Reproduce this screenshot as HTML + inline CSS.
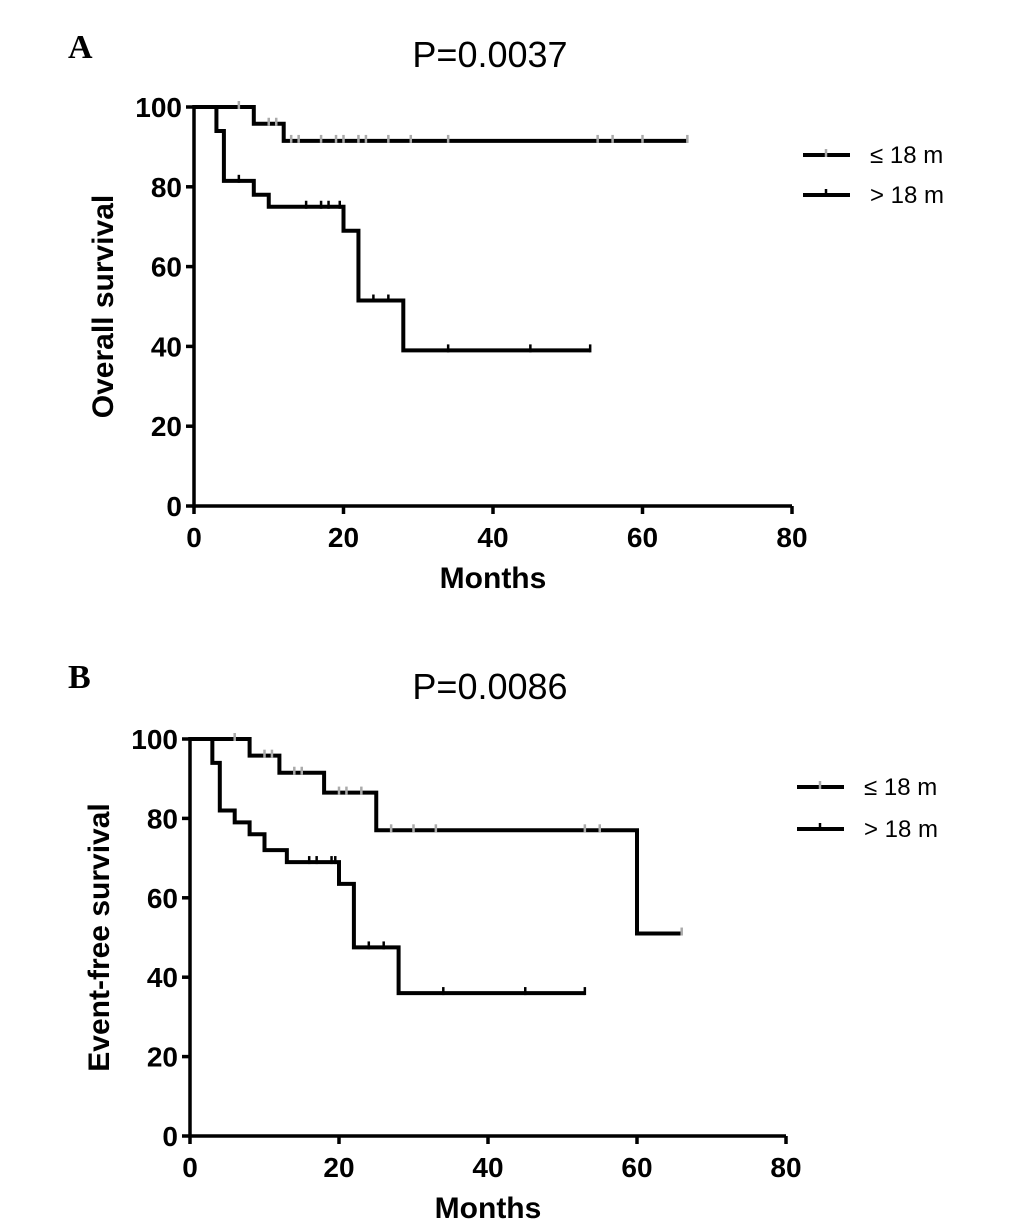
<!DOCTYPE html>
<html><head><meta charset="utf-8"><style>
body{margin:0;background:#fff}
svg{display:block}
text{font-family:"Liberation Sans",Arial,sans-serif}
text.serif{font-family:"Liberation Serif",serif}
</style></head><body>
<svg id="s" width="1033" height="1231" xmlns="http://www.w3.org/2000/svg"></svg>
<script>
// Panel A data
const aTicksX=[0,20,40,60,80];
const aTicksY=[0,20,40,60,80,100];
const aLowT=[0,8,12,66];           // ≤18 m step times
const aLowS=[100,95.8,91.5,91.5];
const aLowC=[6,10,11,13,14,17,19,20,22,23,26,29,34,54,56,60,66];
const aHighT=[0,3,4,8,10,20,22,28,53];
const aHighS=[100,94,81.5,78,75,69,51.5,39,39];
const aHighC=[6,15,17,18,19.5,24,26,34,45,53];
// Panel B data
const bLowT=[0,8,12,18,25,60,66];
const bLowS=[100,95.8,91.5,86.5,77,51,51];
const bLowC=[6,10,11,14,15,20,21,23,27,30,33,53,55,66];
const bHighT=[0,3,4,6,8,10,13,20,22,28,53];
const bHighS=[100,94,82,79,76,72,69,63.5,47.5,36,36];
const bHighC=[16,17,19,19.5,24,26,34,45,53];

const svg=document.getElementById('s');
const NS='http://www.w3.org/2000/svg';
function el(tag,attrs,parent){const e=document.createElementNS(NS,tag);for(const k in attrs)e.setAttribute(k,attrs[k]);(parent||svg).appendChild(e);return e;}
function txt(x,y,s,size,opts,parent){const t=el('text',Object.assign({x:x,y:y,'font-size':size},opts||{}),parent);t.textContent=s;return t;}

function panel(cfg){
  const g=el('g',{});
  
  
  const X=v=>cfg.x0+(cfg.x1-cfg.x0)*v/80;
  const Y=v=>cfg.y0+(cfg.y100-cfg.y0)*v/100;
  const pl=txt(cfg.lx,cfg.ly,cfg.letter,34,{'class':'serif','font-weight':'bold'},g);
  
  const ti=txt(490,cfg.ty,cfg.title,36,{'text-anchor':'middle'},g);
  
  const ax=el('path',{d:`M${X(0)} ${Y(100)-2}V${Y(0)}H${X(80)}`,stroke:'#000','stroke-width':3.5,fill:'none'},g);
  
  aTicksX.forEach(v=>{
    el('line',{x1:X(v),x2:X(v),y1:Y(0),y2:Y(0)+8,stroke:'#000','stroke-width':3.5},g);
    const t=txt(X(v),Y(0)+41,String(v),28,{'text-anchor':'middle','font-weight':'bold'},g);
    
  });
  aTicksY.forEach(v=>{
    el('line',{x1:X(0)-8,x2:X(0),y1:Y(v),y2:Y(v),stroke:'#000','stroke-width':3.5},g);
    const t=txt(X(0)-12,Y(v)+10,String(v),28,{'text-anchor':'end','font-weight':'bold'},g);
    
  });
  const xt=txt((X(0)+X(80))/2,Y(0)+82,'Months',30,{'text-anchor':'middle','font-weight':'bold'},g);
  
  const yc=(Y(0)+Y(100))/2;
  const yt=txt(cfg.ytx,yc,cfg.ytitle,30,{'text-anchor':'middle','font-weight':'bold',transform:`rotate(-90 ${cfg.ytx} ${yc})`},g);
  
  function series(T,S,C,name,tickCol){
    let d=`M${X(T[0])} ${Y(S[0])}`;
    for(let i=1;i<T.length;i++){d+=`H${X(T[i])}V${Y(S[i])}`;}
    const p=el('path',{d:d,stroke:'#000','stroke-width':4,fill:'none'},g);
    
    C.forEach(c=>{
      let s=S[0];for(let i=0;i<T.length;i++){if(T[i]<=c)s=S[i];}
      const m=el('line',{x1:X(c),x2:X(c),y1:Y(s)-6,y2:Y(s)+2,stroke:tickCol,'stroke-width':2.5},g);
      
    });
  }
  series(cfg.lowT,cfg.lowS,cfg.lowC,'curve-le-18m','#aaa');
  series(cfg.highT,cfg.highS,cfg.highC,'curve-gt-18m','#000');
  [['≤ 18 m',cfg.leg1,'#aaa'],['> 18 m',cfg.leg1+cfg.legGap,'#000']].forEach(([lab,y,tc])=>{
    const lg=el('g',{},g);
    
    el('line',{x1:cfg.legx,x2:cfg.legx+47,y1:y,y2:y,stroke:'#000','stroke-width':4},lg);
    el('line',{x1:cfg.legx+23,x2:cfg.legx+23,y1:y-6,y2:y+2,stroke:tc,'stroke-width':2.5},lg);
    txt(cfg.legx+67,y+8,lab,24,{},lg);
  });
}
panel({name:'panel-a',letter:'A',lx:68,ly:58,title:'P=0.0037',ty:67,x0:194,x1:792,y0:506,y100:107,
  ytx:113,ytitle:'Overall survival',lowT:aLowT,lowS:aLowS,lowC:aLowC,highT:aHighT,highS:aHighS,highC:aHighC,
  legx:803,leg1:155,legGap:40});
panel({name:'panel-b',letter:'B',lx:68,ly:688,title:'P=0.0086',ty:699,x0:190,x1:786,y0:1136,y100:739,
  ytx:109,ytitle:'Event-free survival',lowT:bLowT,lowS:bLowS,lowC:bLowC,highT:bHighT,highS:bHighS,highC:bHighC,
  legx:797,leg1:787,legGap:42});
</script>
</body></html>
